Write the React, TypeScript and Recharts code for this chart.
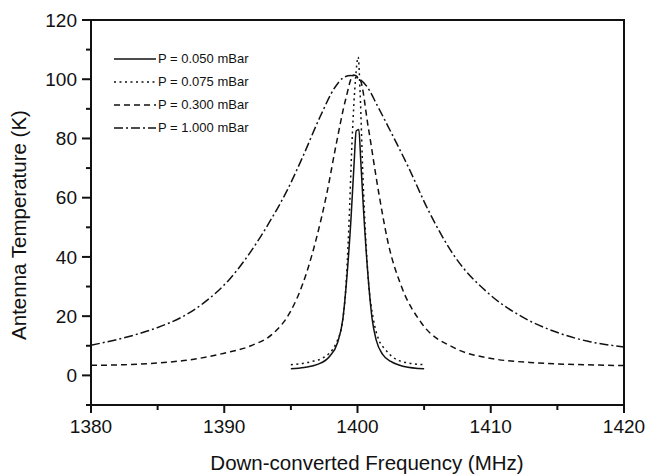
import React from 'react';
import { LineChart, Line, XAxis, YAxis, ReferenceArea, Legend } from 'recharts';

// values
const xTicks = [1380, 1385, 1390, 1395, 1400, 1405, 1410, 1415, 1420];
const yTicks = [-10, 0, 10, 20, 30, 40, 50, 60, 70, 80, 90, 100, 110, 120];

const p0050 = [
  { x: 1395, y: 2.2 }, { x: 1396, y: 2.7 }, { x: 1397, y: 3.7 }, { x: 1397.9, y: 6.4 },
  { x: 1398.5, y: 11 }, { x: 1398.9, y: 19 }, { x: 1399.2, y: 33 }, { x: 1399.5, y: 52 },
  { x: 1399.75, y: 72 }, { x: 1399.9, y: 82.5 }, { x: 1400.1, y: 83 }, { x: 1400.25, y: 72 },
  { x: 1400.45, y: 56 }, { x: 1400.8, y: 33 }, { x: 1401.1, y: 19 }, { x: 1401.4, y: 12 },
  { x: 1401.9, y: 7 }, { x: 1402.5, y: 4.7 }, { x: 1403.5, y: 3 }, { x: 1405, y: 2.2 },
];

const p0075 = [
  { x: 1395, y: 3.6 }, { x: 1396.5, y: 4.6 }, { x: 1397.4, y: 5.9 }, { x: 1398.4, y: 10.9 },
  { x: 1398.9, y: 19 }, { x: 1399.1, y: 28 }, { x: 1399.35, y: 50 }, { x: 1399.6, y: 80 },
  { x: 1399.85, y: 100 }, { x: 1400.05, y: 107.5 }, { x: 1400.2, y: 95 }, { x: 1400.4, y: 68 },
  { x: 1400.8, y: 33 }, { x: 1401.2, y: 18.8 }, { x: 1401.6, y: 12 }, { x: 1402.1, y: 8.7 },
  { x: 1402.7, y: 6 }, { x: 1403.3, y: 4.7 }, { x: 1405, y: 3.6 },
];

const p0300 = [
  { x: 1380, y: 3.4 }, { x: 1382.5, y: 3.6 }, { x: 1385, y: 4.2 }, { x: 1387.5, y: 5.3 },
  { x: 1390, y: 7.5 }, { x: 1392, y: 10 }, { x: 1393.7, y: 14.3 }, { x: 1394.9, y: 21 },
  { x: 1395.9, y: 31 }, { x: 1396.9, y: 46 }, { x: 1397.7, y: 61.5 }, { x: 1398.4, y: 78 },
  { x: 1399.1, y: 93 }, { x: 1399.7, y: 101.4 }, { x: 1400.2, y: 99.8 }, { x: 1400.8, y: 84 },
  { x: 1401.6, y: 61.5 }, { x: 1402.3, y: 44.7 }, { x: 1403.3, y: 30 }, { x: 1404.8, y: 17.7 },
  { x: 1407.3, y: 9.2 }, { x: 1409.8, y: 5.9 }, { x: 1413.6, y: 4.2 }, { x: 1417, y: 3.6 },
  { x: 1420, y: 3.3 },
];

const p1000 = [
  { x: 1380, y: 10.2 }, { x: 1382.4, y: 12.6 }, { x: 1384.9, y: 16 }, { x: 1386.9, y: 19.9 },
  { x: 1388.7, y: 25.3 }, { x: 1390.4, y: 32.5 }, { x: 1391.9, y: 41.2 }, { x: 1393.4, y: 51.8 },
  { x: 1394.7, y: 62.3 }, { x: 1395.9, y: 73.9 }, { x: 1397.2, y: 87.4 }, { x: 1398.3, y: 97.2 },
  { x: 1398.9, y: 100.4 }, { x: 1399.5, y: 101.3 }, { x: 1400.1, y: 100.2 }, { x: 1400.7, y: 97.6 },
  { x: 1401.5, y: 91 }, { x: 1402.3, y: 84 }, { x: 1403.8, y: 70.5 }, { x: 1405.3, y: 55.9 },
  { x: 1407.3, y: 40.1 }, { x: 1409.8, y: 27.8 }, { x: 1412.3, y: 19.9 }, { x: 1414.8, y: 14.8 },
  { x: 1417.3, y: 11.5 }, { x: 1420, y: 9.6 },
];

const series = [
  { name: 'P = 0.050 mBar', data: p0050, dash: undefined },
  { name: 'P = 0.075 mBar', data: p0075, dash: '2 3.5' },
  { name: 'P = 0.300 mBar', data: p0300, dash: '6 4' },
  { name: 'P = 1.000 mBar', data: p1000, dash: '9 3 2 3' },
];

const FONT = '"Liberation Sans", Arial, sans-serif';
const INK = '#111';

const XTick = (props: any) => {
  const { x, y, payload } = props;
  const major = payload.value % 10 === 0;
  return (
    <g>
      <line x1={x} x2={x} y1={y} y2={y + (major ? 8 : 5)} stroke={INK} strokeWidth={2} />
      {major && (
        <text x={x} y={y + 28} textAnchor="middle" fontFamily={FONT} fontSize={19} fill={INK}>
          {payload.value}
        </text>
      )}
    </g>
  );
};

const YTick = (props: any) => {
  const { x, y, payload } = props;
  const major = payload.value % 20 === 0;
  return (
    <g>
      <line x1={x - (major ? 9 : 5)} x2={x} y1={y} y2={y} stroke={INK} strokeWidth={2} />
      {major && (
        <text x={x - 14} y={y + 6.8} textAnchor="end" fontFamily={FONT} fontSize={19} fill={INK}>
          {payload.value}
        </text>
      )}
    </g>
  );
};

const XLabel = () => (
  <text x={367} y={470} textAnchor="middle" fontFamily={FONT} fontSize={20.5} fill={INK}>
    Down-converted Frequency (MHz)
  </text>
);

const YLabel = () => (
  <text x={25.5} y={225} transform="rotate(-90 25.5 225)" textAnchor="middle" fontFamily={FONT} fontSize={20.5} fill={INK}>
    Antenna Temperature (K)
  </text>
);

const LegendBox = () => (
  <div style={{ fontFamily: FONT, fontSize: 13, color: INK }}>
    {series.map((s) => (
      <div key={s.name} style={{ height: 23, display: 'flex', alignItems: 'center' }}>
        <svg width={44} height={10}>
          <line x1={0} x2={42} y1={5} y2={5} stroke={INK} strokeWidth={1.5} strokeDasharray={s.dash} />
        </svg>
        <span>{s.name}</span>
      </div>
    ))}
  </div>
);

export default function App() {
  return (
    <div style={{ position: 'absolute', top: 0, left: 0, width: 647, height: 475, background: '#fff' }}>
      <LineChart width={647} height={475} margin={{ top: 20, right: 23, left: 0, bottom: 0 }}>
        <XAxis
          dataKey="x"
          type="number"
          domain={[1380, 1420]}
          ticks={xTicks}
          interval={0}
          height={70}
          tickSize={0}
          tickMargin={0}
          tickLine={false}
          axisLine={{ stroke: INK, strokeWidth: 2 }}
          tick={<XTick />}
          label={<XLabel />}
          allowDuplicatedCategory={false}
        />
        <YAxis
          type="number"
          domain={[-10, 120]}
          ticks={yTicks}
          interval={0}
          width={91}
          tickSize={0}
          tickMargin={0}
          tickLine={false}
          axisLine={{ stroke: INK, strokeWidth: 2 }}
          tick={<YTick />}
          label={<YLabel />}
        />
        <ReferenceArea x1={1380} x2={1420} y1={-10} y2={120} fill="none" stroke={INK} strokeWidth={2} ifOverflow="visible" />
        {series.map((s) => (
          <Line
            key={s.name}
            data={s.data}
            dataKey="y"
            name={s.name}
            type="monotone"
            stroke={INK}
            strokeWidth={1.5}
            strokeDasharray={s.dash}
            dot={false}
            activeDot={false}
            isAnimationActive={false}
          />
        ))}
        <Legend
          layout="vertical"
          align="center"
          verticalAlign="middle"
          content={<LegendBox />}
          wrapperStyle={{ top: 47, left: 114, width: 'auto', height: 'auto' }}
        />
      </LineChart>
    </div>
  );
}
